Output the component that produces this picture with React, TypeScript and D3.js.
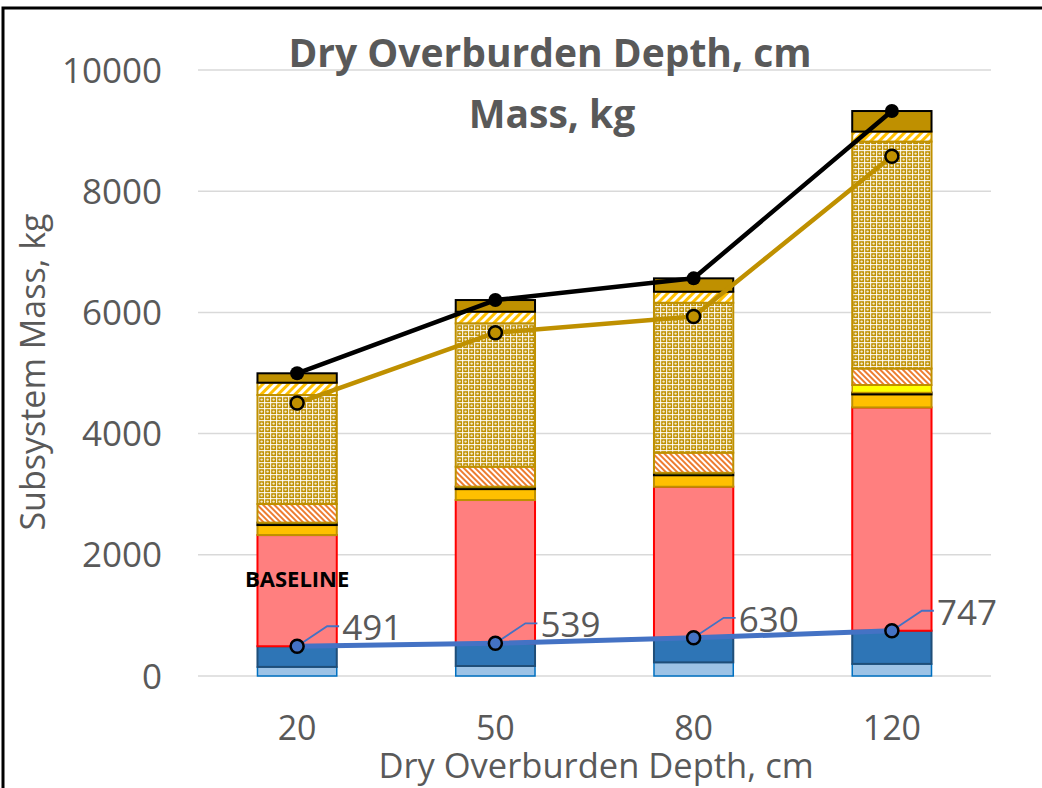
import React from "react";
import * as d3 from "d3";

const categories = ["20", "50", "80", "120"];
const lightBlue = [150, 165, 225, 200];
const darkBlue = [341, 374, 405, 547];
const redSeg = [1835, 2365, 2493, 3685];
const goldYellow = [165, 180, 190, 215];
const blackBand = [40, 40, 40, 30];
const brightYellow = [0, 0, 0, 125];
const orangeHatch = [307, 329, 332, 272];
const goldCross = [1799, 2367, 2474, 3745];
const yellowStripe = [203, 191, 182, 165];
const darkGold = [155, 193, 221, 339];

const blueLine = [491, 539, 630, 747];
const goldLine = [4504, 5665, 5932, 8576];
const totalLine = [4995, 6204, 6562, 9323];

const yTicks = [0, 2000, 4000, 6000, 8000, 10000];

const W = 1042;
const H = 788;
const TXT = "#595959";
const FONT = "'Open Sans', sans-serif";

const seriesDefs = [
  { key: "lb", values: lightBlue, fill: "#9DC3E6", stroke: "#0070C0", sw: 1.5 },
  { key: "db", values: darkBlue, fill: "#2E75B6", stroke: "#1F4E79", sw: 2 },
  { key: "red", values: redSeg, fill: "#FF7F7F", stroke: "#FF0000", sw: 2 },
  { key: "gy", values: goldYellow, fill: "#FFC000", stroke: "#BF9000", sw: 2 },
  { key: "bk", values: blackBand, fill: "#FFFF00", stroke: "#000000", sw: 2 },
  { key: "by", values: brightYellow, fill: "#FFFF00", stroke: "#BF9000", sw: 1.5 },
  { key: "oh", values: orangeHatch, fill: "url(#orangeHatch)", stroke: "#BF9000", sw: 2 },
  { key: "gc", values: goldCross, fill: "url(#goldCross)", stroke: "#BF9000", sw: 2 },
  { key: "ys", values: yellowStripe, fill: "url(#yellowStripe)", stroke: "#BF9000", sw: 2 },
  { key: "dg", values: darkGold, fill: "#BF9000", stroke: "#000000", sw: 2 },
];

export default function App() {
  const x = d3
    .scaleBand<string>()
    .domain(categories)
    .range([198, 991])
    .paddingInner(0.6)
    .paddingOuter(0.3);
  const y = d3.scaleLinear().domain([0, 10000]).range([676, 70]);
  const cx = (c: string) => (x(c) as number) + x.bandwidth() / 2;

  const stackData = categories.map((c, i) => {
    const o: any = { cat: c };
    seriesDefs.forEach((s) => (o[s.key] = s.values[i]));
    return o;
  });
  const stack = d3.stack<any>().keys(seriesDefs.map((s) => s.key));
  const layers = stack(stackData);

  const line = d3
    .line<number>()
    .x((_, i) => cx(categories[i]))
    .y((d) => y(d));

  return (
    <div style={{ position: "absolute", left: 0, top: 0 }}>
      <svg width={W} height={H} style={{ display: "block", background: "#fff" }}>
        <defs>
          <pattern id="orangeHatch" patternUnits="userSpaceOnUse" width="4" height="4" patternTransform="rotate(-45)">
            <rect width="4" height="4" fill="#fff" />
            <rect width="2" height="4" fill="#ED7D31" />
          </pattern>
          <pattern id="yellowStripe" patternUnits="userSpaceOnUse" width="6" height="6" patternTransform="rotate(45)">
            <rect width="6" height="6" fill="#fff" />
            <rect width="3" height="6" fill="#FFC000" />
          </pattern>
          <pattern id="goldCross" patternUnits="userSpaceOnUse" width="6" height="6">
            <rect width="6" height="6" fill="#BF9000" />
            <rect x="0" y="0" width="6" height="1.2" fill="#fff" opacity="0.85" />
            <rect x="0" y="0" width="1.2" height="6" fill="#fff" opacity="0.85" />
            <circle cx="3.6" cy="3.6" r="1.2" fill="#fff" opacity="0.8" />
          </pattern>
        </defs>

        {/* frame */}
        <path d={`M3,${H} L3,8 L${W},8`} fill="none" stroke="#000" strokeWidth={3} />

        {/* gridlines */}
        {yTicks.map((t) => (
          <line key={t} x1={198} x2={991} y1={y(t)} y2={y(t)} stroke="#D9D9D9" strokeWidth={1.5} />
        ))}

        {/* y tick labels */}
        {yTicks.map((t) => (
          <text key={t} x={162} y={y(t) + 12.5} textAnchor="end" fontFamily={FONT} fontSize={35} fill={TXT}>
            {t}
          </text>
        ))}

        {/* x tick labels */}
        {categories.map((c) => (
          <text key={c} x={cx(c)} y={740} textAnchor="middle" fontFamily={FONT} fontSize={34} fill={TXT}>
            {c}
          </text>
        ))}

        {/* bars */}
        {layers.map((layer, li) => {
          const s = seriesDefs[li];
          return (
            <g key={s.key}>
              {layer.map((d, i) =>
                d[1] - d[0] > 0 ? (
                  <rect
                    key={i}
                    x={x(categories[i])}
                    width={x.bandwidth()}
                    y={y(d[1])}
                    height={y(d[0]) - y(d[1])}
                    fill={s.fill}
                    stroke={s.stroke}
                    strokeWidth={s.sw}
                  />
                ) : null
              )}
            </g>
          );
        })}

        {/* BASELINE */}
        <text x={245} y={587} fontFamily={FONT} fontWeight="bold" fontSize={22} fill="#000">
          BASELINE
        </text>

        {/* gold line */}
        <path d={line(goldLine) || ""} fill="none" stroke="#BF9000" strokeWidth={4.5} strokeLinejoin="round" />
        {goldLine.map((v, i) => (
          <circle key={i} cx={cx(categories[i])} cy={y(v)} r={6.5} fill="#BF9000" stroke="#000" strokeWidth={2.5} />
        ))}

        {/* total line */}
        <path d={line(totalLine) || ""} fill="none" stroke="#000" strokeWidth={4.5} strokeLinejoin="round" />
        {totalLine.map((v, i) => (
          <circle key={i} cx={cx(categories[i])} cy={y(v)} r={7} fill="#000" />
        ))}

        {/* blue line */}
        <path d={line(blueLine) || ""} fill="none" stroke="#4472C4" strokeWidth={5} strokeLinejoin="round" />
        {blueLine.map((v, i) => {
          const px = cx(categories[i]);
          const py = y(v);
          return (
            <g key={i}>
              <path
                d={`M${px},${py} L${px + 30},${py - 20} L${px + 42},${py - 20}`}
                fill="none"
                stroke="#4472C4"
                strokeWidth={1.8}
              />
              <circle cx={px} cy={py} r={6.5} fill="#4472C4" stroke="#000" strokeWidth={2.5} />
              <text x={px + 45} y={py - 20 + 14} fontFamily={FONT} fontSize={35} fill={TXT}>
                {v}
              </text>
            </g>
          );
        })}

        {/* titles */}
        <text x={550} y={67} textAnchor="middle" fontFamily={FONT} fontWeight="bold" fontSize={39} fill={TXT}>
          Dry Overburden Depth, cm
        </text>
        <text x={552} y={128} textAnchor="middle" fontFamily={FONT} fontWeight="bold" fontSize={39} fill={TXT}>
          Mass, kg
        </text>

        <text x={596} y={778} textAnchor="middle" fontFamily={FONT} fontSize={34.5} fill={TXT}>
          Dry Overburden Depth, cm
        </text>
        <text
          transform={`translate(45,372) rotate(-90)`}
          textAnchor="middle"
          fontFamily={FONT}
          fontSize={34}
          fill={TXT}
        >
          Subsystem Mass, kg
        </text>
      </svg>
    </div>
  );
}
